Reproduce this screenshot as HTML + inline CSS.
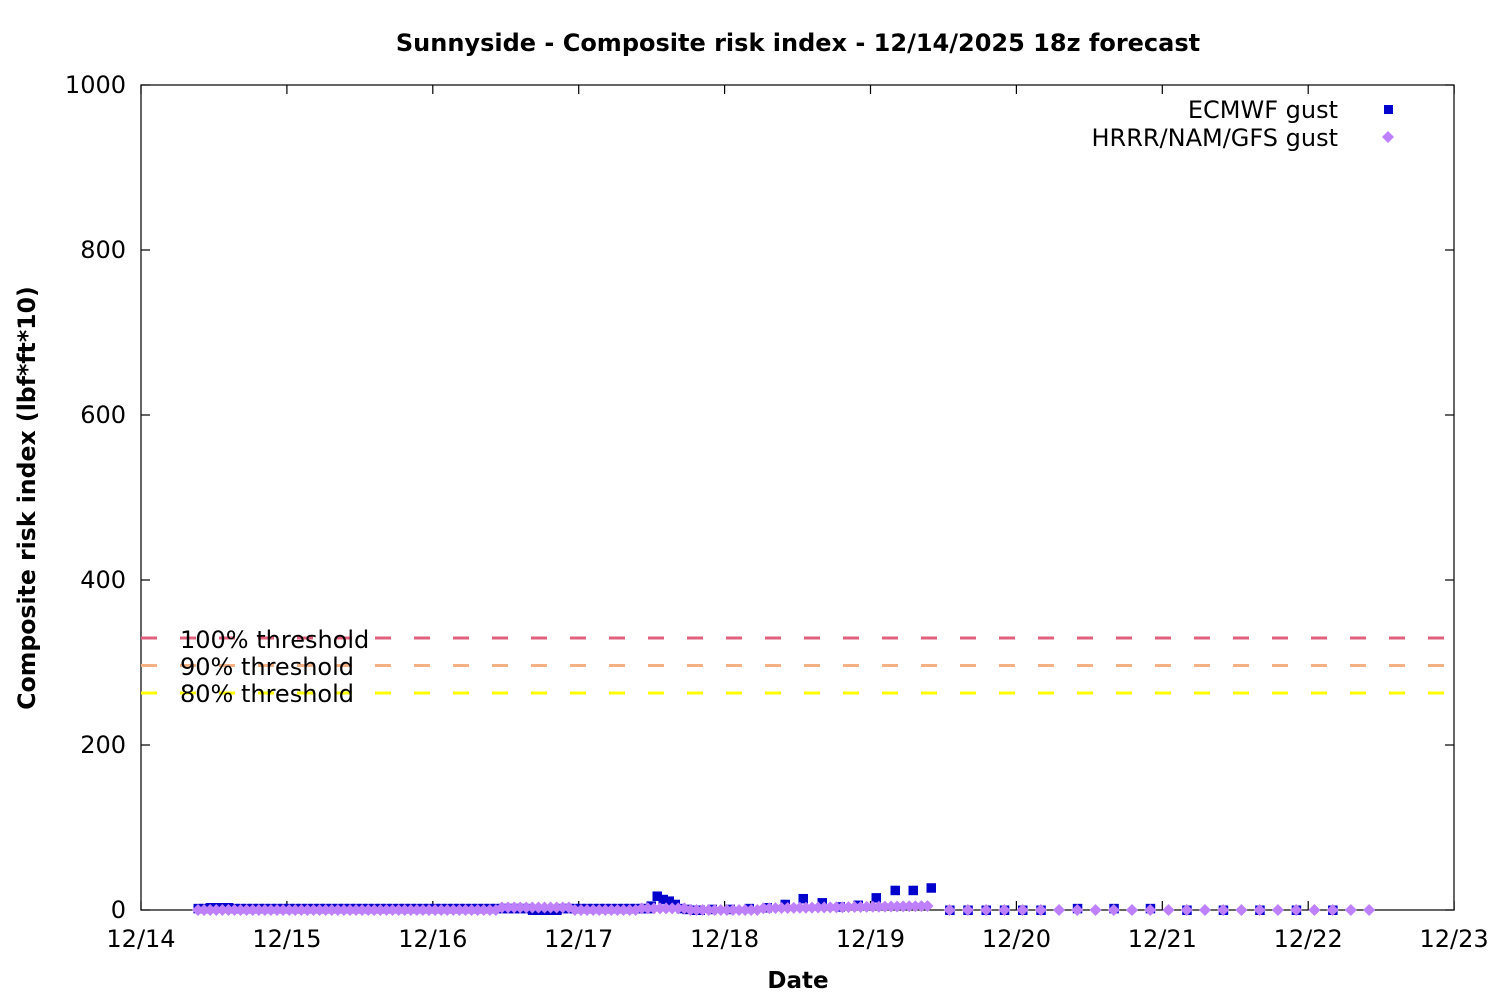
<!DOCTYPE html>
<html><head><meta charset="utf-8"><style>
body{margin:0;background:#fff}
svg text{font-family:"DejaVu Sans","Liberation Sans",sans-serif}
</style></head><body>
<svg id="s" width="1500" height="1000" xmlns="http://www.w3.org/2000/svg">
<rect width="1500" height="1000" fill="#fff"/>
<text x="798" y="51" font-size="24" font-weight="bold" text-anchor="middle">Sunnyside - Composite risk index - 12/14/2025 18z forecast</text>
<text x="798" y="988" font-size="23" font-weight="bold" text-anchor="middle">Date</text>
<text transform="translate(35,498) rotate(-90)" font-size="23.6" font-weight="bold" text-anchor="middle">Composite risk index (lbf*ft*10)</text>
<g id="ax" stroke="#000" stroke-width="1.2"></g>
<g id="tl" font-size="24"></g>
<line x1="141" x2="1454" y1="638" y2="638" stroke="#e0607e" stroke-width="3" stroke-dasharray="16,23"/>
<line x1="141" x2="1454" y1="665.5" y2="665.5" stroke="#f4b183" stroke-width="3" stroke-dasharray="16,23"/>
<line x1="141" x2="1454" y1="693" y2="693" stroke="#ffff00" stroke-width="3" stroke-dasharray="16,23"/>
<text x="180" y="648" font-size="24">100% threshold</text>
<text x="180" y="675" font-size="24">90% threshold</text>
<text x="180" y="702" font-size="24">80% threshold</text>
<text x="1338" y="118" font-size="24" text-anchor="end">ECMWF gust</text>
<text x="1338" y="146" font-size="24" text-anchor="end">HRRR/NAM/GFS gust</text>
<rect x="1384" y="105" width="9" height="9" fill="#0000cc"/>
<path d="M1388 131 l6 6 l-6 6 l-6 -6z" fill="#bf80ff"/>
<g id="pts"></g>
</svg>
<script>
const NS="http://www.w3.org/2000/svg";
const ax=document.getElementById('ax'),tl=document.getElementById('tl'),pts=document.getElementById('pts');
function el(p,t,a,txt){const e=document.createElementNS(NS,t);for(const k in a)e.setAttribute(k,a[k]);if(txt)e.textContent=txt;p.appendChild(e);return e;}
el(ax,'rect',{x:141,y:85,width:1313,height:825,fill:'none'});
const Y=v=>910-v*0.825, D=145.9;
for(let i=0;i<=5;i++){const v=i*200,y=Y(v);
el(ax,'line',{x1:141,x2:150,y1:y,y2:y});el(ax,'line',{x1:1445,x2:1454,y1:y,y2:y});
el(tl,'text',{x:126,y:y+8,'text-anchor':'end'},String(v));}
for(let i=0;i<=9;i++){const x=141+i*D;
el(ax,'line',{x1:x,x2:x,y1:910,y2:901});el(ax,'line',{x1:x,x2:x,y1:85,y2:94});
el(tl,'text',{x:x,y:947,'text-anchor':'middle'},'12/'+(14+i));}
function sq(x,v){el(pts,'rect',{x:x-4.5,y:Y(v)-4.5,width:9.5,height:9.5,fill:'#0000cc'});}
function di(x,v){el(pts,'path',{d:`M${x} ${Y(v)-6}l6 6l-6 6l-6-6z`,fill:'#bf80ff'});}
const h=D/24;
for(let x=198;x<648;x+=h){let v=2;if(x>210&&x<230)v=3;if(x>530&&x<560)v=0;sq(x,v);}
const ec=[[651,5],[657,17],[663,13],[669,11],[675,7],[681,2],[687,1],[694,0],[700,0],[712,1],[730,1],[749,2],[767,3],[785,7],[803,14],[822,9],[840,4],[858,6],[876,15],[895,24],[913,24],[931,27]];
ec.forEach(p=>sq(p[0],p[1]));
for(let x=198;x<933;x+=h){let v=0;if(x>500&&x<570)v=3;if(x>640&&x<690)v=2;if(x>760)v=2+(x-760)/60;di(x,Math.min(v,7));}
[[949.6,0],[967.8,0],[986,0],[1004.3,0],[1022.5,0],[1040.8,0],[1077.3,2],[1113.8,2],[1150.2,2],[1186.7,0],[1223.2,0],[1259.7,0],[1296.2,0],[1332.6,0]].forEach(p=>sq(p[0],p[1]));
for(let x=949.6;x<1372;x+=18.24){di(x,0);}
</script>
</body></html>
